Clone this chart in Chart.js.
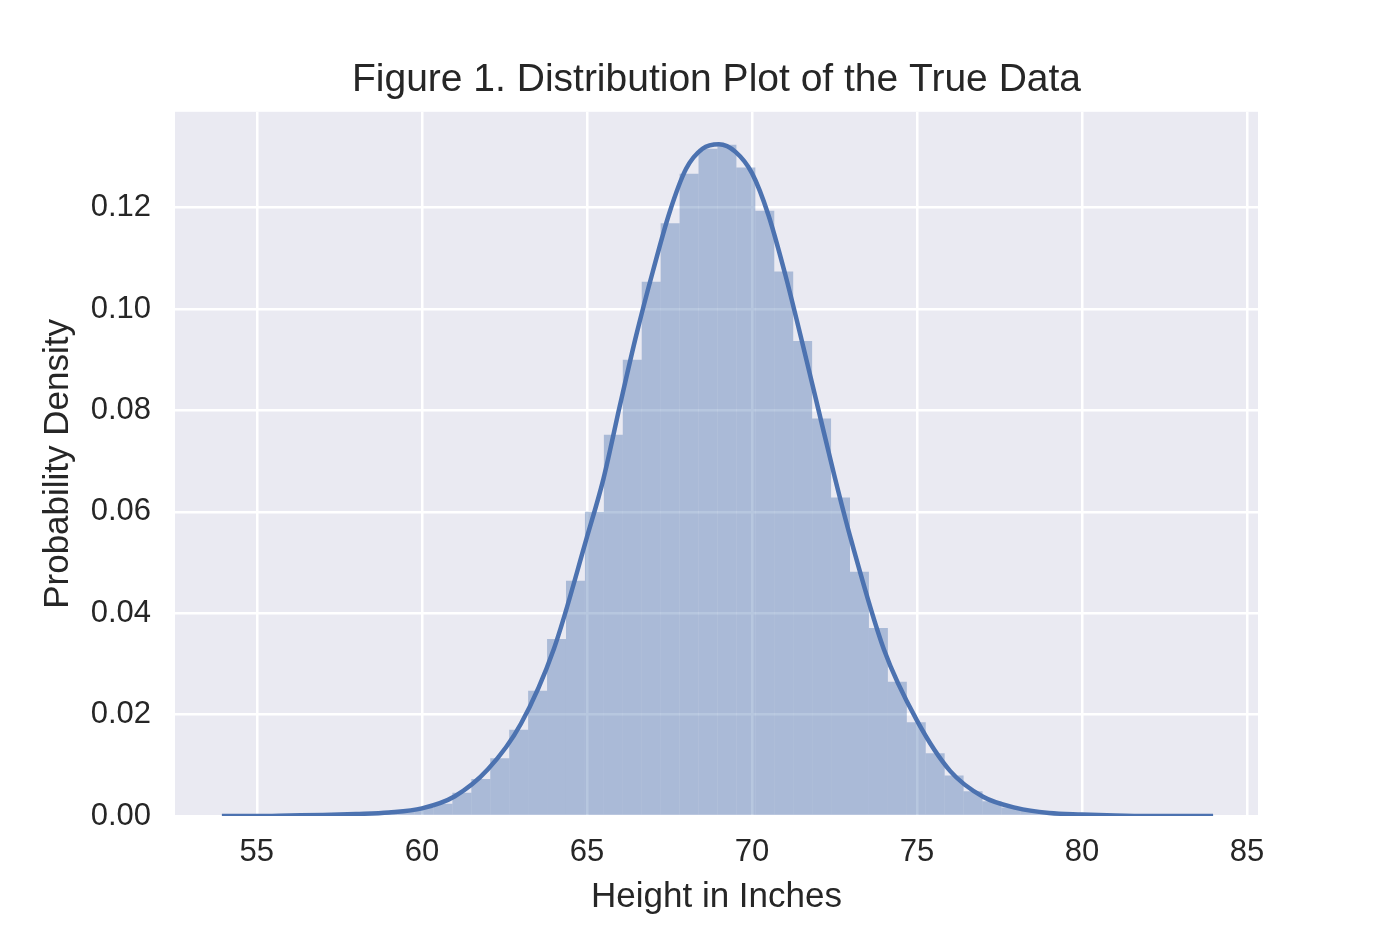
<!DOCTYPE html>
<html>
<head>
<meta charset="utf-8">
<script src="https://cdn.jsdelivr.net/npm/chart.js@4/dist/chart.umd.min.js"></script>
<style>
  html, body { margin: 0; padding: 0; background: #ffffff; }
  #wrap { width: 1400px; height: 933px; }
</style>
</head>
<body>
<div id="wrap"><canvas id="distChart"></canvas></div>
<script>
// histogram bins (centres, inches) and density per bin
const binCenters = [
  55.4746, 56.0482, 56.6218, 57.1954, 57.7690, 58.3426, 58.9162, 59.4898,
  60.0634, 60.6370, 61.2106, 61.7842, 62.3578, 62.9314, 63.5050, 64.0786,
  64.6522, 65.2258, 65.7994, 66.3730, 66.9466, 67.5202, 68.0938, 68.6674,
  69.2410, 69.8146, 70.3882, 70.9618, 71.5354, 72.1090, 72.6826, 73.2562,
  73.8298, 74.4034, 74.9770, 75.5506, 76.1242, 76.6978, 77.2714, 77.8450,
  78.4186, 78.9922, 79.5658, 80.1394, 80.7130, 81.2866, 81.8602, 82.4338
];
const binDensity = [
  0.0000, 0.0001, 0.0001, 0.0002, 0.0003, 0.0005, 0.0007, 0.0010,
  0.0016, 0.0024, 0.0046, 0.0073, 0.0114, 0.0170, 0.0247, 0.0349,
  0.0464, 0.0600, 0.0752, 0.0900, 0.1054, 0.1169, 0.1267, 0.1316,
  0.1324, 0.1279, 0.1194, 0.1074, 0.0937, 0.0784, 0.0628, 0.0482,
  0.0371, 0.0265, 0.0185, 0.0124, 0.0080, 0.0049, 0.0029, 0.0017,
  0.0010, 0.0006, 0.0003, 0.0002, 0.0001, 0.0001, 0.0000, 0.0000
];

// KDE curve
const kdeX = [
  53.94, 55, 56, 57, 58, 59, 60, 61, 62, 63, 64, 65, 65.5, 66, 66.5, 67, 67.5,
  68, 68.5, 69, 69.5, 70, 70.5, 71, 71.5, 72, 72.5, 73, 74, 75, 76, 77, 78,
  79, 80, 81, 82, 83, 83.97
];
const kdeY = [
  0.0000, 0.0000, 0.0001, 0.0002, 0.0004, 0.0007, 0.0015, 0.0039, 0.0092,
  0.0182, 0.0330, 0.0550, 0.0665, 0.0810, 0.0950, 0.1075, 0.1190, 0.1276,
  0.1316, 0.1325, 0.1310, 0.1268, 0.1185, 0.1070, 0.0940, 0.0805, 0.0670,
  0.0545, 0.0328, 0.0188, 0.0089, 0.0038, 0.0016, 0.0006, 0.0003, 0.0001,
  0.0000, 0.0000, 0.0000
];

const xTicks = [55, 60, 65, 70, 75, 80, 85];
const yTicks = [0.00, 0.02, 0.04, 0.06, 0.08, 0.10, 0.12];

const FONT = '"Liberation Sans", Arial, Helvetica, sans-serif';
const TEXT = '#262626';
const BLUE = '#4C72B0';

const plotBg = {
  id: 'plotBg',
  beforeDraw(chart) {
    const { ctx, chartArea: a } = chart;
    ctx.save();
    ctx.fillStyle = '#EAEAF2';
    ctx.fillRect(a.left, a.top, a.right - a.left, a.bottom - a.top);
    ctx.restore();
  }
};

const ctx = document.getElementById('distChart').getContext('2d');

new Chart(ctx, {
  type: 'bar',
  data: {
    datasets: [
      {
        type: 'line',
        label: 'KDE',
        data: kdeX.map((x, i) => ({ x: x, y: kdeY[i] })),
        borderColor: BLUE,
        borderWidth: 4.5,
        pointRadius: 0,
        fill: false,
        cubicInterpolationMode: 'monotone',
        order: 1
      },
      {
        type: 'bar',
        label: 'Histogram',
        data: binCenters.map((x, i) => ({ x: x, y: binDensity[i] })),
        backgroundColor: 'rgba(76, 114, 176, 0.4)',
        borderWidth: 0,
        inflateAmount: 0,
        barPercentage: 1.0,
        categoryPercentage: 1.0,
        order: 2
      }
    ]
  },
  options: {
    responsive: true,
    maintainAspectRatio: false,
    animation: false,
    layout: { padding: { left: 0, right: 142, top: 0, bottom: 0 } },
    plugins: {
      legend: { display: false },
      tooltip: { enabled: false },
      title: {
        display: true,
        fullSize: false,
        text: 'Figure 1. Distribution Plot of the True Data',
        color: TEXT,
        font: { family: FONT, size: 39, weight: 'normal' },
        padding: { top: 57, bottom: 8 }
      }
    },
    scales: {
      x: {
        type: 'linear',
        min: 52.52,
        max: 85.33,
        offset: false,
        afterFit(scale) { scale.height = 117; },
        afterBuildTicks(scale) { scale.ticks = xTicks.map(v => ({ value: v })); },
        grid: { color: '#ffffff', lineWidth: 2.5, drawTicks: false, offset: false },
        border: { display: false },
        ticks: {
          color: TEXT,
          padding: 18,
          maxRotation: 0,
          font: { family: FONT, size: 31 },
          callback: v => String(v)
        },
        title: {
          display: true,
          text: 'Height in Inches',
          color: TEXT,
          font: { family: FONT, size: 35 },
          padding: { top: 0, bottom: 15 }
        }
      },
      y: {
        min: 0,
        max: 0.1389,
        afterFit(scale) { scale.width = 175; },
        afterBuildTicks(scale) { scale.ticks = yTicks.map(v => ({ value: v })); },
        grid: { color: '#ffffff', lineWidth: 2.5, drawTicks: false },
        border: { display: false },
        ticks: {
          color: TEXT,
          padding: 24,
          font: { family: FONT, size: 31 },
          callback: v => Number(v).toFixed(2)
        },
        title: {
          display: true,
          text: 'Probability Density',
          color: TEXT,
          font: { family: FONT, size: 35 },
          padding: { top: 37, bottom: 0 }
        }
      }
    }
  },
  plugins: [plotBg]
});
</script>
</body>
</html>
